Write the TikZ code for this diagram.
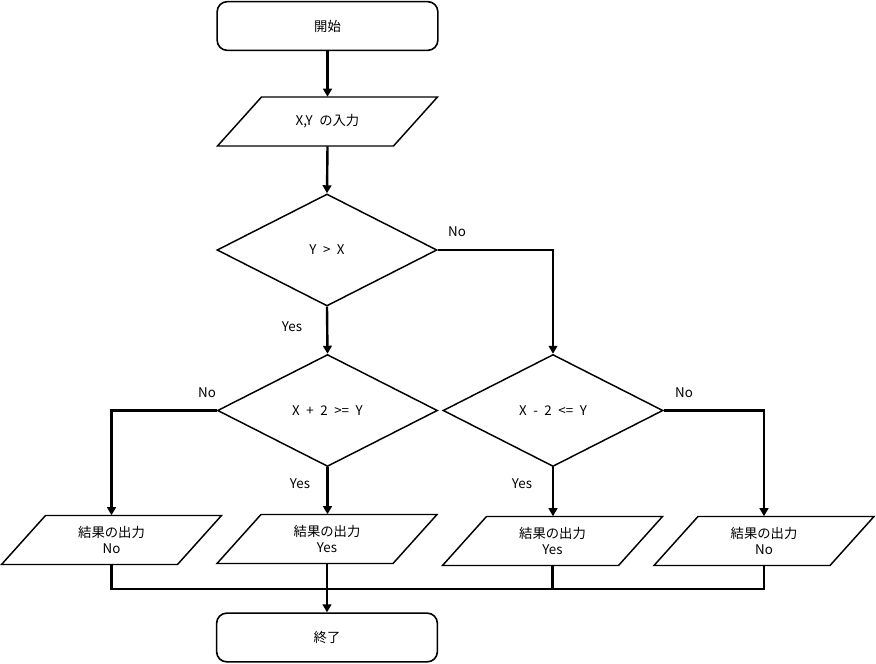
\documentclass[tikz,border=0pt]{standalone}
\usepackage{fontspec}
\setmainfont{Noto Sans CJK JP}[WordSpace=2.2]
\usetikzlibrary{shapes.geometric,arrows.meta}
\newcommand\iopara[1]{\draw[ioline] ([shift={(-66,-24.5)}]#1.center) -- ([shift={(110,-24.5)}]#1.center) -- ([shift={(66,24.5)}]#1.center) -- ([shift={(-110,24.5)}]#1.center) -- cycle;}
\begin{document}
\begin{tikzpicture}[x=0.75pt,y=-0.75pt,
  every node/.style={font=\fontsize{10pt}{12pt}\selectfont, inner sep=0pt, align=center},
  termbox/.style={draw, line width=1.2pt, rectangle, rounded corners=7.5pt, minimum width=165.5pt, minimum height=36.5pt},
  iobox/.style={rectangle, minimum width=165pt, minimum height=36.75pt},
  ioline/.style={line width=1.1pt, line join=miter},
  decbox/.style={draw, line width=1.1pt, diamond, minimum width=165pt, minimum height=84pt},
  conn/.style={line width=1.8pt},
  arr/.style={conn, -{Triangle[length=6pt,width=6.5pt]}},
  lbl/.style={font=\fontsize{10pt}{12pt}\selectfont}
]
\useasboundingbox (0,0) rectangle (876,664);
\node[termbox] (start) at (327.5,26) {開始};
\node[iobox] (inp) at (327.5,121.5) {X,Y の入力};
\node[decbox] (d1) at (327,250) {Y > X};
\node[decbox] (d2) at (327.5,410.5) {X + 2 >= Y};
\node[decbox] (d3) at (553,410.5) {X - 2 <= Y};
\node[iobox] (p1) at (111.5,540) {結果の出力\\No};
\node[iobox] (p2) at (327,539) {結果の出力\\Yes};
\node[iobox] (p3) at (552.5,541) {結果の出力\\Yes};
\node[iobox] (p4) at (764,541) {結果の出力\\No};
\node[termbox] (end) at (327,637.5) {終了};
\iopara{inp}
\iopara{p1}
\iopara{p2}
\iopara{p3}
\iopara{p4}
\coordinate (j) at (327,589);

\node[lbl] (l1) at (457,232) {No};
\node[lbl] (l2) at (292,327) {Yes};
\node[lbl] (l3) at (207,393) {No};
\node[lbl] (l4) at (300,484) {Yes};
\node[lbl] (l5) at (684,393) {No};
\node[lbl] (l6) at (522,484) {Yes};

\draw[arr] (start.south) -- (inp.north -| start.south);
\draw[arr] (inp.south) -- (d1.north);
\draw[arr] (d1.south) -- (d2.north);
\draw[arr] (d1.east) -| (d3.north);
\draw[arr] (d2.west) -| (p1.north);
\draw[arr] (d2.south) -- (p2.north -| d2.south);
\draw[arr] (d3.south) -- (p3.north -| d3.south);
\draw[arr] (d3.east) -| (p4.north);
\draw[conn] (p1.south) |- (j);
\draw[conn] (p4.south) |- (j);
\draw[conn] (p3.south) |- (j);
\draw[arr] (p2.south) -- (end.north);
\end{tikzpicture}
\end{document}
